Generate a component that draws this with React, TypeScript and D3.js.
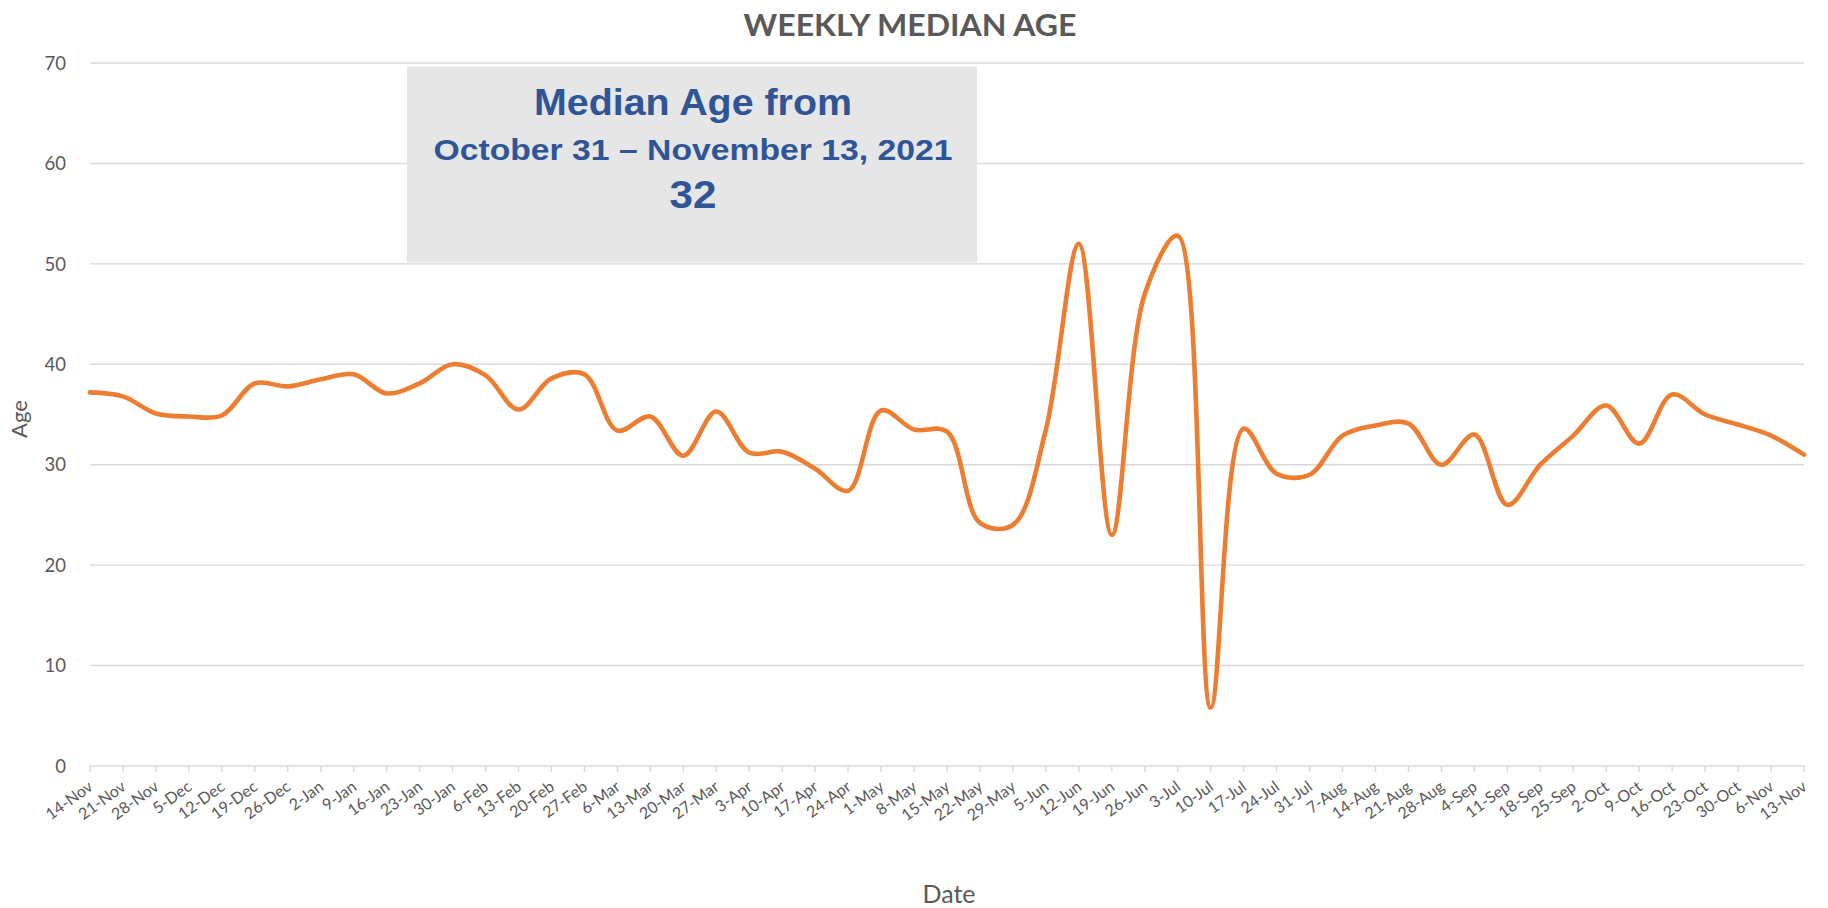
import React from "react";
import * as d3 from "d3";

const dates = [
  "14-Nov","21-Nov","28-Nov","5-Dec","12-Dec","19-Dec","26-Dec","2-Jan","9-Jan","16-Jan",
  "23-Jan","30-Jan","6-Feb","13-Feb","20-Feb","27-Feb","6-Mar","13-Mar","20-Mar","27-Mar",
  "3-Apr","10-Apr","17-Apr","24-Apr","1-May","8-May","15-May","22-May","29-May","5-Jun",
  "12-Jun","19-Jun","26-Jun","3-Jul","10-Jul","17-Jul","24-Jul","31-Jul","7-Aug","14-Aug",
  "21-Aug","28-Aug","4-Sep","11-Sep","18-Sep","25-Sep","2-Oct","9-Oct","16-Oct","23-Oct",
  "30-Oct","6-Nov","13-Nov"
];

const medianAges = [
  37.2, 36.8, 35.1, 34.8, 34.9, 38.1, 37.8, 38.5, 39.0, 37.1,
  38.1, 40.0, 38.9, 35.5, 38.6, 39.0, 33.4, 34.8, 30.9, 35.3,
  31.2, 31.3, 29.6, 27.4, 35.4, 33.5, 33.3, 24.2, 24.0, 33.5,
  52.0, 23.0, 47.0, 52.8, 5.8, 33.6, 29.1, 29.0, 32.9, 33.9,
  34.1, 30.0, 33.0, 26.0, 30.0, 32.9, 35.9, 32.1, 37.0, 35.0,
  34.0, 32.9, 31.0
];

const yTicks = [0, 10, 20, 30, 40, 50, 60, 70];

const chartTitle = "WEEKLY MEDIAN AGE";
const yTitle = "Age";
const xTitle = "Date";
const noteLines = ["Median Age from", "October 31 \u2013 November 13, 2021", "32"];

const W = 1828;
const H = 908;
const PL = 90, PR = 1804, PT = 63, PB = 766;

export default function App() {
  React.useEffect(() => {
    document.body.style.margin = "0";
  }, []);

  const x = d3.scalePoint<string>().domain(dates).range([PL, PR]);
  const y = d3.scaleLinear().domain([0, 70]).range([PB, PT]);

  const line = d3
    .line<number>()
    .x((_, i) => x(dates[i]) as number)
    .y((d) => y(d))
    .curve(d3.curveCatmullRom.alpha(0.5));

  const axisFont = "Lato, 'Open Sans', sans-serif";
  const boxFont = "'Liberation Sans', Arial, sans-serif";
  const gray = "#595959";
  const grid = "#d9d9d9";
  const blue = "#2f5597";

  const boxX0 = 407, boxX1 = 977, boxY0 = 66.5, boxY1 = 262.5;
  const boxCx = (boxX0 + boxX1) / 2 + 1;

  return (
    <svg width={W} height={H} style={{ display: "block", background: "#fff" }}>
      <rect x={0} y={0} width={W} height={H} fill="#fff" />
      {yTicks.map((t) => (
        <line key={"g" + t} x1={PL} x2={PR} y1={y(t)} y2={y(t)} stroke={grid} strokeWidth={1.4} />
      ))}
      {dates.map((d) => (
        <line key={"t" + d} x1={x(d)} x2={x(d)} y1={PB} y2={PB + 6} stroke={grid} strokeWidth={1.4} />
      ))}
      {yTicks.map((t) => (
        <text key={"yl" + t} x={66} y={y(t)} dy="0.36em" textAnchor="end" fontFamily={axisFont} fontSize={18.5} fill={gray}>
          {t}
        </text>
      ))}
      {dates.map((d) => {
        const px = (x(d) as number) + 4;
        const py = PB + 23;
        return (
          <text key={"xl" + d} x={px} y={py} textAnchor="end" fontFamily={axisFont} fontSize={16} fill={gray}
            transform={`rotate(-36 ${px} ${py})`}>
            {d}
          </text>
        );
      })}
      <rect x={boxX0} y={boxY0} width={boxX1 - boxX0} height={boxY1 - boxY0} fill="#e6e6e6" />
      <text x={boxCx} y={115} textAnchor="middle" fontFamily={boxFont} fontWeight="bold" fontSize={36} fill={blue}
        textLength={318} lengthAdjust="spacingAndGlyphs">
        {noteLines[0]}
      </text>
      <text x={boxCx} y={160} textAnchor="middle" fontFamily={boxFont} fontWeight="bold" fontSize={30} fill={blue}
        textLength={519} lengthAdjust="spacingAndGlyphs">
        {noteLines[1]}
      </text>
      <text x={boxCx} y={208} textAnchor="middle" fontFamily={boxFont} fontWeight="bold" fontSize={39} fill={blue}
        textLength={47} lengthAdjust="spacingAndGlyphs">
        {noteLines[2]}
      </text>
      <path d={line(medianAges) || ""} fill="none" stroke="#ed7d31" strokeWidth={4.6} strokeLinejoin="round" strokeLinecap="round" />
      <text x={910} y={36} textAnchor="middle" fontFamily={axisFont} fontWeight="bold" fontSize={31} fill={gray}
        textLength={333} lengthAdjust="spacingAndGlyphs">
        {chartTitle}
      </text>
      <text x={0} y={0} transform={`translate(27 419) rotate(-90)`} textAnchor="middle" fontFamily={axisFont} fontSize={22} fill={gray}>
        {yTitle}
      </text>
      <text x={(PL + PR) / 2 + 2} y={903} textAnchor="middle" fontFamily={axisFont} fontSize={25} fill={gray}>
        {xTitle}
      </text>
    </svg>
  );
}
